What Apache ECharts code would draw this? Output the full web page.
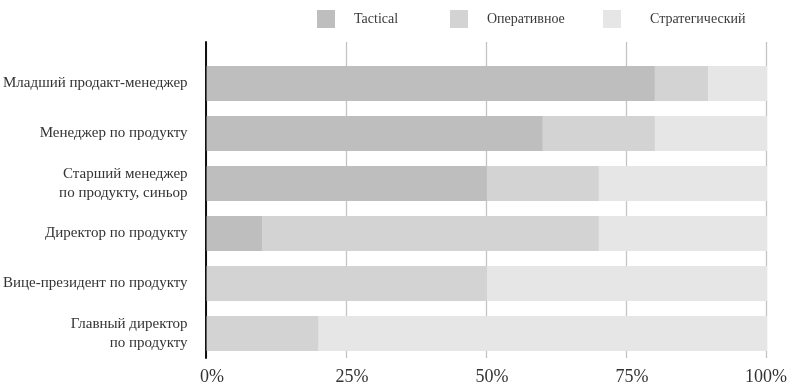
<!DOCTYPE html>
<html><head><meta charset="utf-8">
<script src="https://cdn.jsdelivr.net/npm/echarts@6/dist/echarts.min.js"></script>
<style>html,body{margin:0;padding:0;background:#fff}#c{width:790px;height:388px}</style>
</head><body><div id="c"></div>
<script>
const categories = [
  'Младший продакт-менеджер',
  'Менеджер по продукту',
  'Старший менеджер\nпо продукту, синьор',
  'Директор по продукту',
  'Вице-президент по продукту',
  'Главный директор\nпо продукту'
];
const seriesNames = ['Tactical', 'Оперативное', 'Стратегический'];
const tactical = [80, 60, 50, 10, 0, 0];
const operative = [9.5, 20, 20, 60, 50, 20];
const strategic = [10.5, 20, 30, 30, 50, 80];
const tickLabels = ['0%', '25%', '50%', '75%', '100%'];

const colors = ['#bebebe', '#d3d3d3', '#e6e6e6'];
const FONT = 'Liberation Serif';
const values = [tactical, operative, strategic];

const chart = echarts.init(document.getElementById('c'), null, {renderer: 'canvas'});
const legendLefts = [312, 445, 598];
chart.setOption({
  animation: false,
  backgroundColor: '#fff',
  legend: seriesNames.map((n, i) => ({
    data: [n], left: legendLefts[i], top: 5,
    itemWidth: 18, itemHeight: 18, icon: 'rect',
    textStyle: {fontFamily: FONT, fontSize: 14, color: '#3a3a3a', padding: [0, 0, 0, i === 2 ? 24 : 14]}
  })),
  grid: [
    {left: 206, right: 23, top: 42, bottom: 30},
    {left: 206, right: 23, top: 58.5, height: 300}
  ],
  xAxis: [
    {gridIndex: 0, type: 'value', min: 0, max: 100, interval: 25,
     axisLine: {show: false}, axisTick: {show: false},
     splitLine: {show: true, lineStyle: {color: '#c4c4c4', width: 1.3}},
     axisLabel: {
       formatter: v => (v === 100 ? '{b|' : '{a|') + tickLabels[v / 25] + '}',
       rich: {
         a: {fontFamily: FONT, fontSize: 18, color: '#333', padding: [0, 0, 0, 12]},
         b: {fontFamily: FONT, fontSize: 18, color: '#333'}
       },
       margin: 10}},
    {gridIndex: 1, type: 'value', min: 0, max: 100, show: false}
  ],
  yAxis: [
    {gridIndex: 0, type: 'value', min: 0, max: 1, axisLabel: {show: false}, axisTick: {show: false},
     splitLine: {show: false}, axisLine: {show: true, lineStyle: {color: '#111', width: 2}}},
    {gridIndex: 1, type: 'category', inverse: true, data: categories,
     axisLine: {show: false}, axisTick: {show: false},
     axisLabel: {fontFamily: FONT, fontSize: 15, color: '#333', margin: 19, lineHeight: 19, align: 'right'}}
  ],
  series: seriesNames.map((n, i) => ({
    name: n, type: 'bar', stack: 'all', xAxisIndex: 1, yAxisIndex: 1,
    barWidth: 35, data: values[i], itemStyle: {color: colors[i]}
  }))
});
</script></body></html>
